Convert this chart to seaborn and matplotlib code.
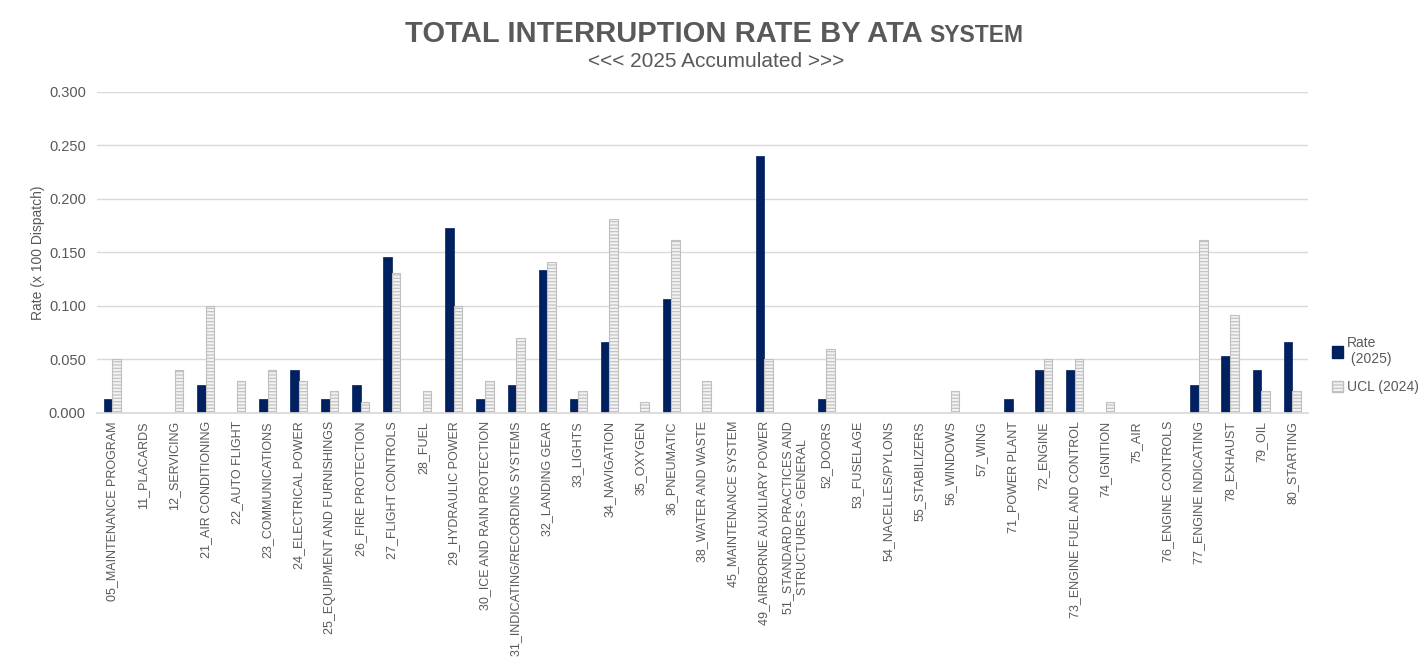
import matplotlib
matplotlib.use("Agg")
import matplotlib.pyplot as plt
import pandas as pd
import seaborn as sns
from matplotlib.patches import Patch
from matplotlib.ticker import FormatStrFormatter

ATA = [
    "05_MAINTENANCE PROGRAM", "11_PLACARDS", "12_SERVICING", "21_AIR CONDITIONING",
    "22_AUTO FLIGHT", "23_COMMUNICATIONS", "24_ELECTRICAL POWER",
    "25_EQUIPMENT AND FURNISHINGS", "26_FIRE PROTECTION", "27_FLIGHT CONTROLS",
    "28_FUEL", "29_HYDRAULIC POWER", "30_ICE AND RAIN PROTECTION",
    "31_INDICATING/RECORDING SYSTEMS", "32_LANDING GEAR", "33_LIGHTS",
    "34_NAVIGATION", "35_OXYGEN", "36_PNEUMATIC", "38_WATER AND WASTE",
    "45_MAINTENANCE SYSTEM", "49_AIRBORNE AUXILIARY POWER",
    "51_STANDARD PRACTICES AND\nSTRUCTURES - GENERAL", "52_DOORS", "53_FUSELAGE",
    "54_NACELLES/PYLONS", "55_STABILIZERS", "56_WINDOWS", "57_WING",
    "71_POWER PLANT", "72_ENGINE", "73_ENGINE FUEL AND CONTROL", "74_IGNITION",
    "75_AIR", "76_ENGINE CONTROLS", "77_ENGINE INDICATING", "78_EXHAUST",
    "79_OIL", "80_STARTING",
]
RATE_2025 = [
    0.013, 0.0, 0.0, 0.026, 0.0, 0.013, 0.040, 0.013, 0.026, 0.146,
    0.0, 0.173, 0.013, 0.026, 0.133, 0.013, 0.066, 0.0, 0.106, 0.0,
    0.0, 0.240, 0.0, 0.013, 0.0, 0.0, 0.0, 0.0, 0.0, 0.013,
    0.040, 0.040, 0.0, 0.0, 0.0, 0.026, 0.053, 0.040, 0.066,
]
UCL_2024 = [
    0.050, 0.0, 0.040, 0.100, 0.030, 0.040, 0.030, 0.020, 0.010, 0.131,
    0.020, 0.100, 0.030, 0.070, 0.141, 0.020, 0.181, 0.010, 0.161, 0.030,
    0.0, 0.050, 0.0, 0.060, 0.0, 0.0, 0.0, 0.020, 0.0, 0.0,
    0.050, 0.050, 0.010, 0.0, 0.0, 0.161, 0.091, 0.020, 0.020,
]
SERIES = ["Rate\n (2025)", "UCL (2024)"]

NAVY = "#002060"
GREY_TXT = "#595959"

df = pd.DataFrame({
    "ata": ATA * 2,
    "series": [SERIES[0]] * len(ATA) + [SERIES[1]] * len(ATA),
    "rate": RATE_2025 + UCL_2024,
})

sns.set_theme(style="white")
plt.rcParams["font.family"] = ["Liberation Sans", "DejaVu Sans"]
plt.rcParams["hatch.color"] = "#b0b0b0"
plt.rcParams["hatch.linewidth"] = 0.8

fig = plt.figure(figsize=(14.26, 6.70), dpi=100)
ax = fig.add_axes([0.068, 0.384, 0.849, 0.479])

sns.barplot(data=df, x="ata", y="rate", hue="series", order=ATA, hue_order=SERIES,
            palette=[NAVY, "#f2f2f2"], width=0.55, ax=ax, legend=False, saturation=1)

n = len(ATA)
for i, p in enumerate(ax.patches[:2 * n]):
    if i >= n:
        p.set_hatch("-----")
        p.set_edgecolor("#bfbfbf")
        p.set_linewidth(0.8)
    else:
        p.set_edgecolor(NAVY)
        p.set_linewidth(0.5)

ax.set_ylim(0, 0.300)
ax.set_xlim(-0.5, n - 0.5)
ax.set_yticks([0, 0.05, 0.10, 0.15, 0.20, 0.25, 0.30])
ax.yaxis.set_major_formatter(FormatStrFormatter("%.3f"))
ax.yaxis.grid(True, color="#d9d9d9", linewidth=1)
ax.set_axisbelow(True)
for s in ["top", "right", "left"]:
    ax.spines[s].set_visible(False)
ax.spines["bottom"].set_color("#d9d9d9")
ax.tick_params(axis="y", labelsize=10.5, colors=GREY_TXT, length=0, pad=8)
ax.tick_params(axis="x", labelsize=9, colors=GREY_TXT, length=0, pad=6)
plt.setp(ax.get_xticklabels(), rotation=90, ha="center", va="top", linespacing=1.25)
ax.set_xlabel("")
ax.set_ylabel("Rate (x 100 Dispatch)", fontsize=10, color=GREY_TXT, labelpad=3)

handles = [
    Patch(facecolor=NAVY, edgecolor=NAVY, label=SERIES[0]),
    Patch(facecolor="#f2f2f2", edgecolor="#bfbfbf", hatch="-----", label=SERIES[1]),
]
fig.legend(handles=handles, loc="center left", bbox_to_anchor=(0.925, 0.455),
           frameon=False, fontsize=10, labelcolor=GREY_TXT, handlelength=0.8,
           handleheight=0.9, handletextpad=0.3, labelspacing=1.0)

# title: big part + smaller "SYSTEM", centred together
t1 = fig.text(0, 0.938, "TOTAL INTERRUPTION RATE BY ATA ", ha="left", va="baseline",
              fontsize=21, fontweight="bold", color=GREY_TXT)
t2 = fig.text(0, 0.938, "SYSTEM", ha="left", va="baseline",
              fontsize=16.5, fontweight="bold", color=GREY_TXT)
fig.canvas.draw()
r = fig.canvas.get_renderer()
w1 = t1.get_window_extent(r).width / fig.bbox.width
w2 = t2.get_window_extent(r).width / fig.bbox.width
x0 = 0.501 - (w1 + w2) / 2
t1.set_x(x0)
t2.set_x(x0 + w1)
fig.text(0.502, 0.908, "<<< 2025 Accumulated >>>", ha="center", va="center",
         fontsize=15, color=GREY_TXT)

fig.savefig("out.png", dpi=100, facecolor="white")
